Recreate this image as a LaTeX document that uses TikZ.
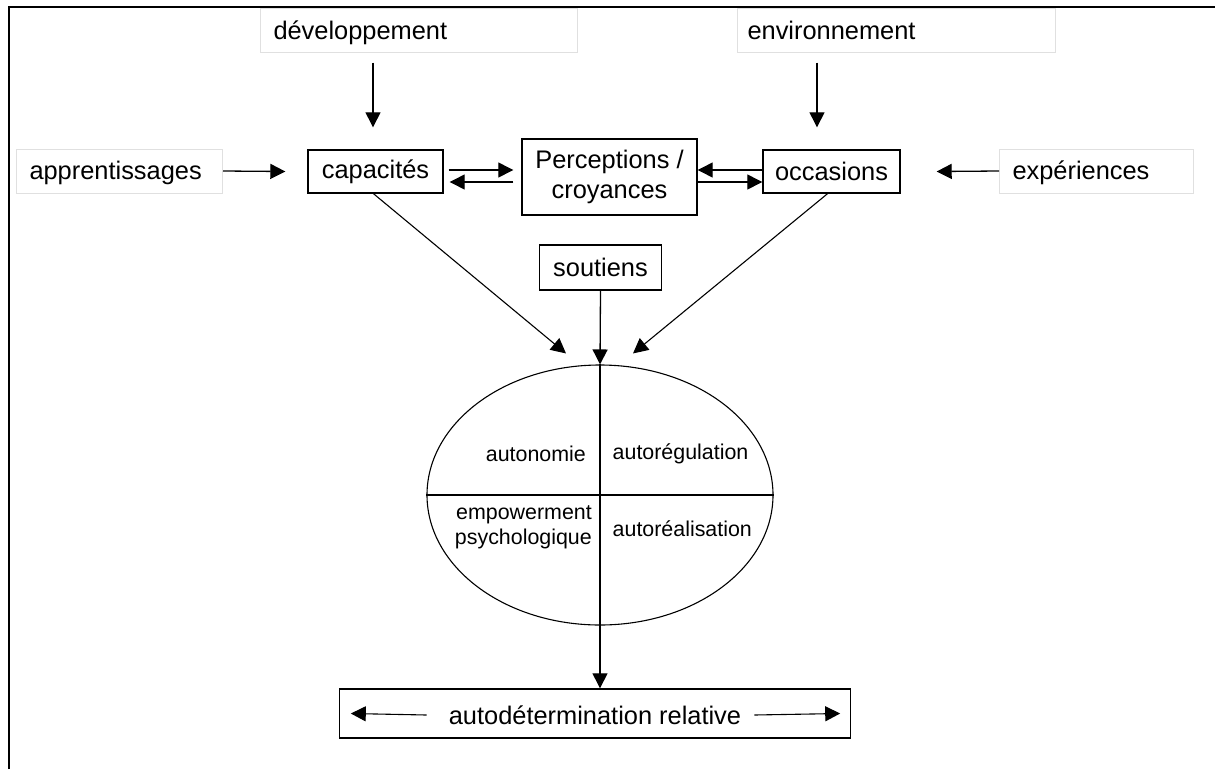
\documentclass[tikz,border=0pt]{standalone}
\usepackage{fontspec}
\setmainfont{Liberation Sans}
\usetikzlibrary{arrows.meta,shapes.geometric,calc}

\tikzset{
  every node/.style={font=\fontsize{25.4}{30}\selectfont},
  small/.style={font=\fontsize{21.4}{25}\selectfont, inner sep=0pt},
  lightbox/.style={draw=black!12, line width=1pt, anchor=west, align=left,
                   minimum height=44pt, inner ysep=0pt, text depth=0pt},
  darkbox/.style={draw=black, line width=1.4pt, inner sep=0pt, align=center},
  tip/.style={-{Triangle[length=15pt,width=15pt]}},
  arr/.style={line width=1.3pt, tip},
  thinarr/.style={line width=1.1pt, tip},
  thin/.style={line width=1.1pt}
}

\begin{document}
\begin{tikzpicture}[x=1pt,y=-1pt]
\useasboundingbox (0,0) rectangle (1215,769);

% outside influences (light frames)
\node (dev)  [lightbox, text height=18pt, inner xsep=13pt, text width=291pt] at (260,30)  {développement};
\node (env)  [lightbox, text height=18pt, inner xsep=10pt, text width=298pt] at (737,30)  {environnement};
\node (appr) [lightbox, text height=16pt, inner xsep=13pt, text width=180pt] at (16,171)  {apprentissages};
\node (exp)  [lightbox, text height=16pt, inner xsep=13pt, text width=168pt] at (999,171) {expériences};

% page frame
\draw[line width=2pt] (9,769) -- (9,7) -- (1215,7);

% main boxes
\node (cap)  [darkbox, minimum width=135pt, minimum height=43pt] at (375.5,171.5) {capacités};
\node (perc) [darkbox, minimum width=175pt, minimum height=76pt] at (609.5,177) {Perceptions /\\croyances};
\node (occ)  [darkbox, minimum width=137pt, minimum height=43pt] at (831.5,171.5) {occasions};
\node (sout) [darkbox, minimum width=122pt, minimum height=45pt] at (600.5,267.5) {soutiens};
\node (bot)  [darkbox, minimum width=511pt, minimum height=49pt] at (595,713.5) {};
\node (txt)  [inner sep=0pt] at (595,715) {autodétermination relative};

% central ellipse and its four quarters
\node (ell) [draw, thin, ellipse, minimum width=346pt, minimum height=260pt, inner sep=0pt] at (600,495) {};
\draw[thin] (ell.west) -- (ell.east);
\draw[thin] (ell.north) -- (ell.south);
\node (aut) [small, anchor=east] at (586,454) {autonomie};
\node (reg) [small, anchor=west] at (612.5,454) {autorégulation};
\node (emp) [small, anchor=east, align=right] at (592,527) {empowerment\\psychologique};
\node (rea) [small, anchor=west] at (612.5,529) {autoréalisation};

% connectors
\draw[arr] ($(dev.south -| cap.north)+(-2.5,10)$) -- ($(cap.north)+(-2.5,-22)$);
\draw[arr] ($(env.south -| occ.north)+(-14.5,10)$) -- ($(occ.north)+(-14.5,-22)$);
\draw[arr] (appr.east) -- ($(cap.west)+(-22,0)$);
\draw[arr] (exp.west) -- ($(occ.east)+(36,0)$);

\draw[arr] ($(cap.east)+(5,-1.5)$) -- ($(perc.west)+(-8,-7)$);
\draw[arr] ($(perc.west)+(-8,5)$) -- ($(cap.east)+(6,10.5)$);
\draw[arr] ($(occ.west)+(0,-1.5)$) -- ($(perc.east)+(0,-7)$);
\draw[arr] ($(perc.east)+(0,5)$) -- ($(occ.west)+(0,10.5)$);

\draw[thinarr] ($(cap.south)+(-2,0)$) -- ($(ell.north)+(-34,-11)$);
\draw[thinarr] ($(occ.south)+(-4,0)$) -- ($(ell.north)+(33,-11)$);
\draw[arr] (sout.south) -- (ell.north);
\draw[arr] (ell.south) -- (ell.south |- bot.north);

% arrows inside the bottom box
\draw[thinarr] ($(txt.west)+(-22,0)$) -- ($(bot.west)+(12,0)$);
\draw[thinarr] ($(txt.east)+(13,0)$) -- ($(bot.east)+(-11,0)$);
\end{tikzpicture}
\end{document}
